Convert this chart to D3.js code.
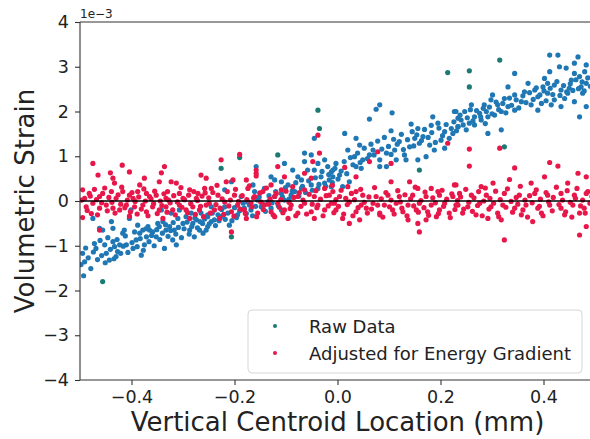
<!DOCTYPE html>
<html>
<head>
<meta charset="utf-8">
<script src="https://cdn.jsdelivr.net/npm/d3@7"></script>
<style>
  body { margin: 0; background: #fff; }
  svg { display: block; font-family: "DejaVu Sans", sans-serif; }
</style>
</head>
<body>
<svg id="chart" width="590" height="439"></svg>
<script>
// Strain values are stored in units of 1e-3 (shown by the axis offset label).
const xTicks = [-0.4, -0.2, 0.0, 0.2, 0.4];
const yTicks = [-4, -3, -2, -1, 0, 1, 2, 3, 4];
const seriesNames = ["Raw Data", "Adjusted for Energy Gradient"];

// Raw volumetric strain vs. vertical centroid location (mm, strain x1e-3)
const rawPoints = [
  [-0.495,-1.17],[-0.491,-1.36],[-0.493,-1.67],[-0.475,-0.39],[-0.472,-0.95],[-0.469,-1.06],[-0.462,-0.61],[-0.456,-0.65],
  [-0.452,-0.98],[-0.449,-1.17],[-0.443,-1.32],[-0.439,-0.46],[-0.436,-0.61],[-0.436,-0.91],[-0.433,-1.02],[-0.430,-1.24],
  [-0.427,-1.13],[-0.423,-0.98],[-0.417,-0.72],[-0.414,-0.65],[-0.410,-0.98],[-0.404,-0.39],[-0.401,-0.20],[-0.397,-1.06],
  [-0.391,-0.87],[-0.388,-0.54],[-0.384,-0.72],[-0.381,-1.21],[-0.378,-0.65],[-0.375,-0.98],[-0.371,-0.80],[-0.368,-0.57],
  [-0.365,-0.65],[-0.359,-0.69],[-0.352,-0.80],[-0.349,-0.50],[-0.346,-0.57],[-0.342,-0.20],[-0.339,-0.46],[-0.336,-1.06],
  [-0.333,-0.65],[-0.326,-0.57],[-0.323,-0.27],[-0.320,-0.87],[-0.317,-0.65],[-0.313,-0.98],[-0.310,-0.39],[-0.307,-0.20],
  [-0.300,-0.50],[-0.294,-0.35],[-0.287,-0.65],[-0.284,-0.27],[-0.281,-0.50],[-0.278,-0.80],[-0.274,-0.42],[-0.268,-0.65],
  [-0.265,-0.27],[-0.262,-0.50],[-0.255,-0.65],[-0.252,-0.35],
  [-0.219,0.25],[-0.206,0.43],[-0.219,-0.13],[-0.232,-0.31],[-0.245,-0.46],[-0.252,-0.57],[-0.239,-0.42],[-0.226,-0.35],
  [-0.210,-0.54],[-0.194,-0.31],[-0.181,-0.16],[-0.168,-0.20],[-0.148,-0.13],[-0.135,-0.02],[-0.122,0.10],[-0.103,0.02],
  [-0.090,0.13],[-0.070,0.28],[-0.038,0.28],[-0.025,0.40],[-0.009,0.54],[-0.187,0.10],[-0.174,-0.02],[-0.155,0.02],
  [-0.129,-0.16],[-0.109,-0.20],[-0.245,-0.13],[-0.252,-0.31],[-0.045,1.40],[-0.064,1.07],[-0.051,1.03],[-0.103,0.84],
  [-0.087,0.69],[-0.158,0.77],[-0.129,0.54],[-0.122,0.47],[-0.109,0.43],[-0.096,0.36],[-0.077,0.54],[-0.070,0.47],
  [-0.064,0.88],[-0.058,0.69],[-0.045,0.69],[-0.038,0.84],[-0.032,0.54],[-0.025,0.92],[-0.019,0.77],[-0.016,0.47],
  [-0.012,0.65],[-0.051,0.36],[-0.083,0.21],[-0.109,0.17],[-0.142,0.28],[-0.164,0.36],[-0.161,0.21],
  [0.082,2.15],[0.075,2.05],[0.106,1.97],[0.062,1.83],[0.014,1.51],[0.104,1.57],[0.143,1.72],[0.156,1.62],
  [0.182,1.69],[0.185,1.88],[0.195,1.74],[0.227,2.00],[0.234,1.85],[0.221,1.62],[0.208,1.55],[0.036,1.40],
  [0.043,1.25],[0.020,1.14],[0.033,0.99],[0.049,0.92],[0.046,0.73],[-0.003,0.84],[-0.009,0.69],[0.004,0.58],
  [0.023,0.43],[0.010,0.32],[0.069,1.14],[0.082,0.92],[0.095,1.07],[0.111,1.14],[0.120,1.33],[0.130,1.03],
  [0.140,1.21],[0.150,1.40],[0.159,1.29],[0.166,1.44],[0.179,1.25],[0.156,0.92],[0.172,0.99],[0.188,1.14],
  [0.201,1.36],[0.208,1.18],[0.224,1.51],[0.234,1.66],[0.095,0.77],[0.062,1.03],[0.082,0.77],[0.133,0.92],
  [0.114,0.92],[0.036,0.77],[-0.012,0.32],
  [0.412,3.26],[0.428,3.26],[0.467,3.22],[0.344,2.85],[0.331,2.55],[0.370,2.63],[0.412,2.89],[0.431,3.00],
  [0.444,2.97],[0.460,3.08],[0.483,3.04],[0.470,2.78],[0.454,2.70],[0.402,2.74],[0.399,2.55],[0.421,2.59],
  [0.434,2.48],[0.450,2.52],[0.473,2.55],[0.483,2.63],[0.363,2.44],[0.383,2.48],[0.389,2.33],[0.408,2.41],
  [0.421,2.26],[0.441,2.29],[0.460,2.22],[0.483,2.11],[0.470,1.88],[0.344,2.37],[0.357,2.22],[0.376,2.15],
  [0.396,2.18],[0.324,2.29],[0.331,2.11],[0.344,2.03],[0.311,2.15],[0.298,2.26],[0.301,2.37],[0.285,2.15],
  [0.289,2.00],[0.276,1.96],[0.266,1.88],[0.260,2.15],[0.247,2.00],[0.240,1.81],[0.230,2.00],[0.234,1.66],
  [0.250,1.59],[0.256,1.74],[0.266,1.70],[0.279,1.81],[0.292,1.88],[0.305,1.92],[0.318,2.00],[0.292,1.51],
  [0.318,1.59],[0.389,2.03],[0.415,2.15],[0.434,2.11],[0.447,2.41],[0.476,2.41],[0.408,2.63],[0.460,2.85],
  [0.480,2.89],
  [-0.498,-1.42],[-0.489,-1.05],[-0.484,-1.27],[-0.479,-1.51],[-0.474,-1.14],[-0.466,-1.31],[-0.461,-0.88],[-0.458,-1.22],
  [-0.451,-1.38],[-0.446,-0.82],[-0.441,-1.08],[-0.434,-1.29],[-0.428,-0.86],[-0.421,-1.17],[-0.416,-1.01],[-0.412,-0.78],
  [-0.407,-1.15],[-0.399,-0.93],[-0.394,-0.69],[-0.389,-1.02],[-0.383,-0.84],[-0.377,-1.10],[-0.372,-0.62],[-0.366,-0.91],
  [-0.361,-0.77],[-0.356,-1.00],[-0.351,-0.64],[-0.345,-0.86],[-0.340,-0.72],[-0.334,-0.53],[-0.329,-0.79],[-0.324,-0.66],
  [-0.319,-0.48],[-0.314,-0.74],[-0.309,-0.59],[-0.303,-0.82],[-0.298,-0.62],[-0.292,-0.47],[-0.288,-0.74],[-0.283,-0.57],
  [-0.277,-0.38],[-0.272,-0.60],[-0.267,-0.46],[-0.261,-0.72],[-0.258,-0.40],[-0.249,-0.51],[-0.243,-0.27],[-0.237,-0.55],
  [-0.230,-0.44],[-0.225,-0.19],[-0.218,-0.41],[-0.213,-0.27],[-0.205,-0.44],[-0.200,-0.15],[-0.196,-0.37],[-0.190,-0.22],
  [-0.183,-0.05],[-0.177,-0.28],[-0.171,-0.09],[-0.165,-0.33],[-0.159,-0.12],[-0.152,0.09],[-0.146,-0.06],[-0.140,-0.23],
  [-0.133,0.12],[-0.127,-0.04],[-0.120,0.21],[-0.115,-0.10],[-0.107,0.09],[-0.101,0.30],[-0.094,0.04],[-0.088,0.22],
  [-0.081,0.41],[-0.075,0.11],[-0.068,0.33],[-0.062,0.19],[-0.056,0.45],[-0.049,0.24],[-0.043,0.52],[-0.036,0.37],
  [-0.030,0.66],[-0.023,0.33],[-0.017,0.59],[-0.010,0.41],[-0.005,0.73],[0.001,0.49],[0.007,0.67],[0.013,0.88],
  [0.018,0.61],[0.025,0.97],[0.030,0.81],[0.039,1.07],[0.044,0.86],[0.052,1.18],[0.058,0.95],[0.065,1.27],
  [0.071,1.03],[0.078,1.34],[0.086,1.16],[0.091,1.42],[0.099,1.22],[0.104,1.04],[0.109,1.38],[0.116,1.27],
  [0.124,1.49],[0.128,1.15],[0.136,1.37],[0.145,1.55],[0.148,1.23],[0.154,1.48],[0.163,1.35],[0.169,1.60],
  [0.176,1.42],[0.183,1.53],[0.190,1.31],[0.197,1.63],[0.204,1.46],[0.211,1.71],[0.217,1.40],[0.226,1.77],
  [0.231,1.57],[0.238,1.92],[0.244,1.70],[0.252,1.86],[0.258,2.04],[0.263,1.79],[0.270,2.02],[0.278,1.88],
  [0.283,2.07],[0.287,1.73],[0.295,2.10],[0.300,1.95],[0.308,2.21],[0.313,2.04],[0.321,2.18],[0.327,1.97],
  [0.334,2.30],[0.338,2.14],[0.347,2.26],[0.352,2.08],[0.360,2.35],[0.366,2.20],[0.373,2.42],[0.380,2.27],
  [0.386,2.53],[0.393,2.37],[0.401,2.46],[0.405,2.24],[0.413,2.52],[0.418,2.38],[0.426,2.67],[0.432,2.36],
  [0.439,2.58],[0.445,2.44],[0.452,2.62],[0.457,2.47],[0.463,2.71],[0.468,2.51],[0.475,2.66],[0.479,2.46],
  [0.486,2.75],[0.491,2.56],[0.496,2.68]
];

// Raw readings drawn in the darker legend shade
const rawHighlighted = [
  [-0.456,-1.80],[-0.038,2.03],[-0.035,1.62],[-0.190,0.97],[-0.226,0.73],[-0.116,1.03],[-0.206,-0.80],
  [0.214,2.87],[0.159,0.69],[0.315,3.15],[0.256,2.91],[0.256,2.55],[0.324,1.21]
];

// Strain after removing the energy-gradient contribution
const adjustedPoints = [
  [-0.475,0.84],[-0.418,0.80],[-0.465,0.58],[-0.441,0.63],[-0.404,0.65],[-0.436,0.51],[-0.433,0.40],[-0.342,0.63],
  [-0.336,0.77],[-0.375,0.51],[-0.323,0.43],[-0.313,0.40],[-0.384,0.36],[-0.346,0.43],[-0.255,0.51],[-0.495,0.25],
  [-0.482,0.17],[-0.472,0.26],[-0.456,0.17],[-0.439,0.21],[-0.417,0.21],[-0.404,0.13],[-0.388,0.21],[-0.371,0.17],
  [-0.352,0.13],[-0.330,0.21],[-0.307,0.17],[-0.287,0.25],[-0.271,0.17],[-0.258,0.28],[-0.491,0.06],[-0.462,0.10],
  [-0.430,0.06],[-0.397,0.06],[-0.365,0.10],[-0.333,0.06],[-0.300,0.06],[-0.274,0.06],[-0.488,-0.13],[-0.475,-0.05],
  [-0.462,-0.16],[-0.449,-0.09],[-0.436,-0.16],[-0.423,-0.20],[-0.410,-0.09],[-0.394,-0.13],[-0.378,-0.09],[-0.371,-0.24],
  [-0.359,-0.13],[-0.346,-0.20],[-0.333,-0.13],[-0.320,-0.20],[-0.307,-0.09],[-0.294,-0.20],[-0.281,-0.13],[-0.268,-0.20],
  [-0.255,-0.09],[-0.495,-0.37],[-0.404,-0.34],[-0.339,-0.39],[-0.287,-0.39],[-0.462,-0.65],[-0.265,0.58],[-0.158,0.62],
  [-0.190,1.04],[-0.226,0.92],[-0.035,1.07],[-0.038,1.47],[-0.048,0.88],[-0.116,0.77],[-0.158,0.69],[-0.158,0.56],
  [-0.103,0.54],[-0.064,0.62],[-0.051,0.51],[-0.177,0.47],[-0.216,0.43],[-0.203,0.47],[-0.129,0.36],[-0.087,0.32],
  [-0.064,0.25],[-0.025,0.28],[-0.245,0.28],[-0.174,0.28],[-0.145,0.21],[-0.109,0.25],[-0.232,0.13],[-0.200,0.13],
  [-0.161,0.10],[-0.122,0.10],[-0.077,0.10],[-0.045,0.10],[-0.016,0.13],[-0.249,-0.05],[-0.219,-0.02],[-0.194,-0.09],
  [-0.168,-0.05],[-0.142,-0.09],[-0.116,-0.05],[-0.090,-0.09],[-0.064,-0.05],[-0.038,-0.09],[-0.012,-0.05],[-0.239,-0.20],
  [-0.206,-0.24],[-0.181,-0.20],[-0.155,-0.27],[-0.129,-0.24],[-0.103,-0.20],[-0.077,-0.27],[-0.051,-0.24],[-0.025,-0.20],
  [-0.229,-0.39],[-0.177,-0.39],[-0.122,-0.35],[-0.096,-0.39],[-0.045,-0.39],[-0.206,-0.69],
  [0.214,1.29],[0.078,1.10],[0.062,0.88],[0.104,0.84],[0.014,0.75],[0.036,0.54],[0.104,0.43],[0.140,0.43],
  [0.156,0.28],[0.182,0.28],[0.195,0.21],[0.227,0.36],[0.020,0.32],[0.036,0.21],[-0.009,0.21],[0.004,0.10],
  [0.049,0.13],[0.075,0.10],[0.098,0.13],[0.120,0.10],[0.146,0.13],[0.172,0.10],[0.198,0.13],[0.224,0.10],
  [-0.006,-0.05],[0.023,-0.02],[0.046,-0.09],[0.069,-0.05],[0.091,-0.09],[0.114,-0.05],[0.137,-0.09],[0.159,-0.05],
  [0.182,-0.09],[0.208,-0.05],[0.230,-0.09],[-0.003,-0.20],[0.036,-0.24],[0.056,-0.16],[0.082,-0.27],[0.107,-0.20],
  [0.127,-0.24],[0.153,-0.20],[0.175,-0.24],[0.198,-0.20],[0.217,-0.27],[0.010,-0.39],[0.043,-0.42],[0.082,-0.31],
  [0.137,-0.42],[0.156,-0.50],[0.172,-0.42],[0.192,-0.35],[0.023,-0.50],[0.159,-0.69],
  [0.256,1.16],[0.315,1.18],[0.256,0.78],[0.344,0.74],[0.412,0.86],[0.428,0.78],[0.467,0.62],[0.483,0.54],
  [0.334,0.48],[0.402,0.54],[0.302,0.40],[0.376,0.40],[0.447,0.40],[0.230,0.36],[0.279,0.32],[0.237,0.17],
  [0.260,0.13],[0.289,0.13],[0.324,0.17],[0.353,0.13],[0.383,0.17],[0.408,0.13],[0.434,0.17],[0.460,0.13],
  [0.483,0.17],[0.234,-0.09],[0.253,-0.13],[0.276,-0.05],[0.298,-0.13],[0.321,-0.09],[0.344,-0.16],[0.366,-0.09],
  [0.389,-0.16],[0.412,-0.09],[0.434,-0.16],[0.457,-0.09],[0.479,-0.16],[0.243,-0.27],[0.269,-0.31],[0.311,-0.27],
  [0.357,-0.31],[0.396,-0.27],[0.441,-0.31],[0.470,-0.27],[0.292,-0.39],[0.318,-0.42],[0.379,-0.46],[0.483,-0.57],
  [0.470,-0.76],[0.324,-0.87],
  [-0.497,0.02],[-0.486,-0.21],[-0.480,0.11],[-0.478,-0.28],[-0.468,0.03],[-0.466,-0.31],[-0.458,-0.04],[-0.452,0.29],
  [-0.447,-0.22],[-0.444,0.08],[-0.438,-0.03],[-0.432,-0.27],[-0.426,0.14],[-0.421,-0.07],[-0.419,0.31],[-0.413,-0.15],
  [-0.408,0.02],[-0.402,-0.24],[-0.399,0.19],[-0.393,-0.01],[-0.389,-0.29],[-0.386,0.09],[-0.381,-0.18],[-0.376,0.27],
  [-0.373,0.00],[-0.368,-0.33],[-0.362,0.05],[-0.357,-0.06],[-0.355,0.22],[-0.350,-0.28],[-0.344,0.00],[-0.341,-0.10],
  [-0.337,0.16],[-0.331,-0.25],[-0.328,0.02],[-0.325,-0.04],[-0.318,0.12],[-0.315,-0.31],[-0.311,-0.02],[-0.304,0.30],
  [-0.302,-0.14],[-0.297,0.03],[-0.291,-0.26],[-0.289,0.13],[-0.285,-0.06],[-0.279,0.21],[-0.276,-0.30],[-0.272,0.01],
  [-0.266,-0.12],[-0.263,0.11],[-0.260,-0.35],[-0.257,0.18],
  [-0.250,0.07],[-0.247,-0.27],[-0.242,0.19],[-0.236,-0.08],[-0.234,0.35],[-0.228,-0.16],[-0.224,0.05],[-0.221,-0.30],
  [-0.214,0.21],[-0.211,-0.11],[-0.208,0.02],[-0.201,-0.34],[-0.198,0.26],[-0.192,-0.01],[-0.189,-0.18],[-0.185,0.12],
  [-0.179,-0.28],[-0.176,0.03],[-0.171,0.34],[-0.166,-0.13],[-0.163,0.07],[-0.157,-0.35],[-0.151,0.18],[-0.149,-0.02],
  [-0.144,-0.19],[-0.138,0.29],[-0.134,-0.07],[-0.131,0.04],[-0.125,-0.31],[-0.119,0.17],[-0.113,-0.14],[-0.110,0.03],
  [-0.106,-0.26],[-0.100,0.22],[-0.094,-0.03],[-0.092,-0.17],[-0.085,0.08],[-0.081,-0.33],[-0.074,0.19],[-0.071,-0.12],
  [-0.067,0.02],[-0.060,-0.29],[-0.055,0.15],[-0.049,-0.07],[-0.042,0.23],[-0.040,-0.15],[-0.033,0.04],[-0.028,-0.33],
  [-0.022,0.12],[-0.018,-0.11],[-0.010,0.35],[-0.007,-0.26],[-0.003,0.03],
  [0.002,-0.12],[0.007,0.24],[0.012,-0.29],[0.016,0.06],[0.019,-0.08],[0.027,0.17],[0.030,-0.33],[0.033,0.03],
  [0.040,-0.15],[0.045,0.26],[0.052,-0.03],[0.058,-0.27],[0.061,0.09],[0.066,-0.18],[0.072,0.30],[0.078,-0.09],
  [0.085,0.05],[0.088,-0.36],[0.094,0.19],[0.101,-0.13],[0.104,0.02],[0.110,-0.29],[0.117,0.23],[0.122,-0.02],
  [0.125,-0.16],[0.131,0.14],[0.135,-0.33],[0.142,0.05],[0.148,-0.11],[0.151,0.31],[0.157,-0.25],[0.162,0.01],
  [0.168,-0.15],[0.170,0.20],[0.177,-0.32],[0.185,0.07],[0.190,-0.04],[0.196,-0.28],[0.203,0.24],[0.206,-0.12],
  [0.212,0.04],[0.219,-0.37],[0.222,0.16],[0.228,-0.19],[0.233,0.01],
  [0.239,0.09],[0.245,-0.18],[0.249,0.26],[0.255,-0.03],[0.262,-0.23],[0.265,0.07],[0.272,-0.10],[0.274,0.21],
  [0.281,-0.33],[0.284,0.00],[0.287,0.29],[0.294,-0.18],[0.296,0.06],[0.303,-0.05],[0.307,0.22],[0.313,-0.35],
  [0.316,0.03],[0.327,-0.14],[0.330,0.27],[0.337,-0.01],[0.340,-0.25],[0.347,0.08],[0.350,-0.07],[0.355,0.33],
  [0.360,-0.20],[0.364,0.02],[0.369,-0.36],[0.373,0.12],[0.378,-0.04],[0.386,0.25],[0.392,-0.12],[0.394,0.04],
  [0.399,-0.33],[0.405,0.19],[0.410,-0.02],[0.417,-0.22],[0.419,0.08],[0.425,0.31],[0.430,-0.08],[0.437,0.02],
  [0.443,-0.24],[0.446,0.23],[0.452,-0.03],[0.455,-0.36],[0.462,0.06],[0.465,0.28],[0.472,-0.11],[0.476,0.02],
  [0.481,-0.27],[0.486,0.21],[0.490,-0.05],[0.494,0.10],[0.498,-0.19]
];

const colors = { raw: "#1f77b4", rawDark: "#1b7a73", adjusted: "#e8174a" };

const svg = d3.select("#chart");
const plot = { left: 80, right: 595, top: 22, bottom: 380 };

const x = d3.scaleLinear().domain([-0.5, 0.5]).range([plot.left, plot.right]);
const y = d3.scaleLinear().domain([-4, 4]).range([plot.bottom, plot.top]);

svg.append("defs").append("clipPath").attr("id", "plot-clip")
  .append("rect")
  .attr("x", plot.left).attr("y", plot.top)
  .attr("width", plot.right - plot.left).attr("height", plot.bottom - plot.top);

const pointsLayer = svg.append("g").attr("clip-path", "url(#plot-clip)");
const r = 2.6;

pointsLayer.append("g").selectAll("circle").data(rawPoints).join("circle")
  .attr("cx", d => x(d[0])).attr("cy", d => y(d[1])).attr("r", r)
  .attr("fill", colors.raw);

pointsLayer.append("g").selectAll("circle").data(rawHighlighted).join("circle")
  .attr("cx", d => x(d[0])).attr("cy", d => y(d[1])).attr("r", r)
  .attr("fill", colors.rawDark);

pointsLayer.append("g").selectAll("circle").data(adjustedPoints).join("circle")
  .attr("cx", d => x(d[0])).attr("cy", d => y(d[1])).attr("r", r)
  .attr("fill", colors.adjusted);

// Zero-strain reference line
pointsLayer.append("line")
  .attr("x1", plot.left).attr("x2", plot.right)
  .attr("y1", y(0)).attr("y2", y(0))
  .attr("stroke", "#000").attr("stroke-width", 1.6);

// Spines
const spineColor = "#333";
svg.append("line").attr("x1", plot.left).attr("x2", plot.left)
  .attr("y1", plot.top).attr("y2", plot.bottom).attr("stroke", spineColor).attr("stroke-width", 1.1);
svg.append("line").attr("x1", plot.left).attr("x2", 590)
  .attr("y1", plot.bottom).attr("y2", plot.bottom).attr("stroke", spineColor).attr("stroke-width", 1.1);
svg.append("line").attr("x1", plot.left).attr("x2", 590)
  .attr("y1", plot.top).attr("y2", plot.top).attr("stroke", spineColor).attr("stroke-width", 1.1);

// Axes
const xAxis = d3.axisBottom(x).tickValues(xTicks).tickFormat(d3.format(".1f"))
  .tickSize(5).tickPadding(6);
const gx = svg.append("g").attr("transform", `translate(0,${plot.bottom})`).call(xAxis);
const yAxis = d3.axisLeft(y).tickValues(yTicks).tickFormat(d3.format("d"))
  .tickSize(5).tickPadding(6);
const gy = svg.append("g").attr("transform", `translate(${plot.left},0)`).call(yAxis);

[gx, gy].forEach(g => {
  g.select(".domain").remove();
  g.selectAll(".tick line").attr("stroke", spineColor).attr("stroke-width", 1.1);
  g.selectAll(".tick text").attr("fill", "#222")
    .style("font-family", '"DejaVu Sans", sans-serif').style("font-size", "17.5px");
});

// Offset label for the strain axis
svg.append("text").attr("x", plot.left).attr("y", 18)
  .attr("font-size", 12).attr("fill", "#222").text("1e\u22123");

// Axis titles
svg.append("text").attr("x", (plot.left + plot.right) / 2).attr("y", 431)
  .attr("text-anchor", "middle").attr("font-size", 26).attr("fill", "#222")
  .text("Vertical Centroid Location (mm)");
svg.append("text")
  .attr("transform", `translate(34,${y(0)}) rotate(-90)`)
  .attr("text-anchor", "middle").attr("font-size", 26).attr("fill", "#222")
  .text("Volumetric Strain");

// Legend
const legend = svg.append("g");
legend.append("rect").attr("x", 248).attr("y", 310).attr("width", 334).attr("height", 63)
  .attr("rx", 4).attr("fill", "#fff").attr("fill-opacity", 0.8)
  .attr("stroke", "#d6d6d6").attr("stroke-width", 1);
const legendRows = [
  { name: seriesNames[0], color: colors.rawDark },
  { name: seriesNames[1], color: colors.adjusted }
];
legendRows.forEach((row, i) => {
  const cy = 326 + i * 27;
  legend.append("circle").attr("cx", 275).attr("cy", cy).attr("r", 2).attr("fill", row.color);
  legend.append("text").attr("x", 309).attr("y", cy + 6.5)
    .attr("font-size", 18).attr("fill", "#222").text(row.name);
});
</script>
</body>
</html>
